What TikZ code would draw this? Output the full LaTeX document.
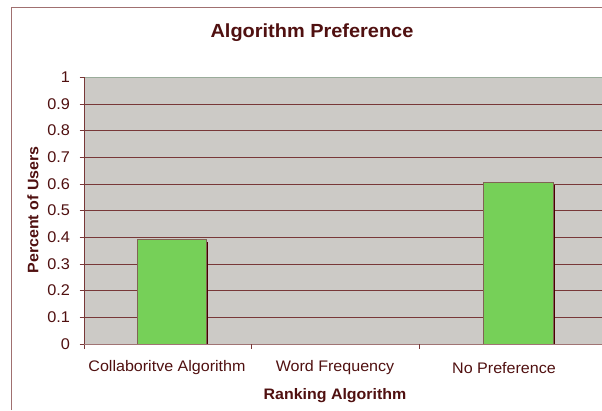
\documentclass[tikz,border=0pt]{standalone}
\usepackage{fontspec}
\setmainfont{Liberation Sans}[FakeStretch=1.05]
\definecolor{txt}{RGB}{80,16,16}
\definecolor{gridc}{RGB}{120,56,56}
\definecolor{plotbg}{RGB}{204,202,198}
\definecolor{bargreen}{RGB}{118,208,88}
\definecolor{barrim}{RGB}{128,100,84}
\definecolor{barshade}{RGB}{72,0,0}
\definecolor{framec}{RGB}{160,112,112}

\begin{document}
\begin{tikzpicture}[x=1pt,y=-1pt,
    ticklab/.style={anchor=east,text=txt,font=\fontsize{15.5}{16}\selectfont},
    catlab/.style={text=txt,font=\fontsize{15.3}{16}\selectfont},
    axlab/.style={text=txt,font=\fontsize{15.2}{16}\selectfont\bfseries}]
    \useasboundingbox (0,0) rectangle (602,410);
    \pgfmathsetmacro{\yz}{344}
    \pgfmathsetmacro{\h}{267}
    \fill[white] (0,0) rectangle (602,410);
    \draw[framec,line width=0.8pt] (11,410) -- (11,7) -- (602,7);
    % plot area
    \fill[plotbg] (84,77) rectangle (602,344);
    \draw[gray!60!green!40!black!45] (84,77) -- (602,77);
    \foreach \v in {1,...,9}
        \draw[gridc] (84,{\yz-\v*\h/10}) -- (602,{\yz-\v*\h/10});
    % bars
    \fill[barshade] (205.7,242) rectangle (207.9,344);
    \draw[barrim,fill=bargreen] (136.7,239.5) rectangle (205.7,344);
    \fill[barshade] (552.7,185) rectangle (555.1,344);
    \draw[barrim,fill=bargreen] (483.3,182.5) rectangle (552.7,344);
    % axes
    \draw[gridc] (84,77) -- (84,349);
    \draw[gridc!70!white] (84,344) -- (602,344);
    \foreach \v/\t in {0/0,1/0.1,2/0.2,3/0.3,4/0.4,5/0.5,6/0.6,7/0.7,8/0.8,9/0.9,10/1} {
        \draw[gridc] (79.5,{\yz-\v*\h/10}) -- (84,{\yz-\v*\h/10});
        \node[ticklab] (tick\v) at (73.5,{\yz-\v*\h/10}) {\t};
    }
    \draw[gridc] (251,344) -- (251,349);
    \draw[gridc] (419,344) -- (419,349);
    \node[catlab] (catA) at (167,368) {Collaboritve Algorithm};
    \node[catlab] (catB) at (335,368) {Word Frequency};
    \node[catlab] (catC) at (504,368) {No Preference};
    \node[axlab] (xlab) at (335,396) {Ranking Algorithm};
    \node[axlab,rotate=90] (ylab) at (33,210) {Percent of Users};
    \node[text=txt,font=\fontsize{19}{21}\selectfont\bfseries] (title) at (312,33) {Algorithm Preference};
\end{tikzpicture}
\end{document}
